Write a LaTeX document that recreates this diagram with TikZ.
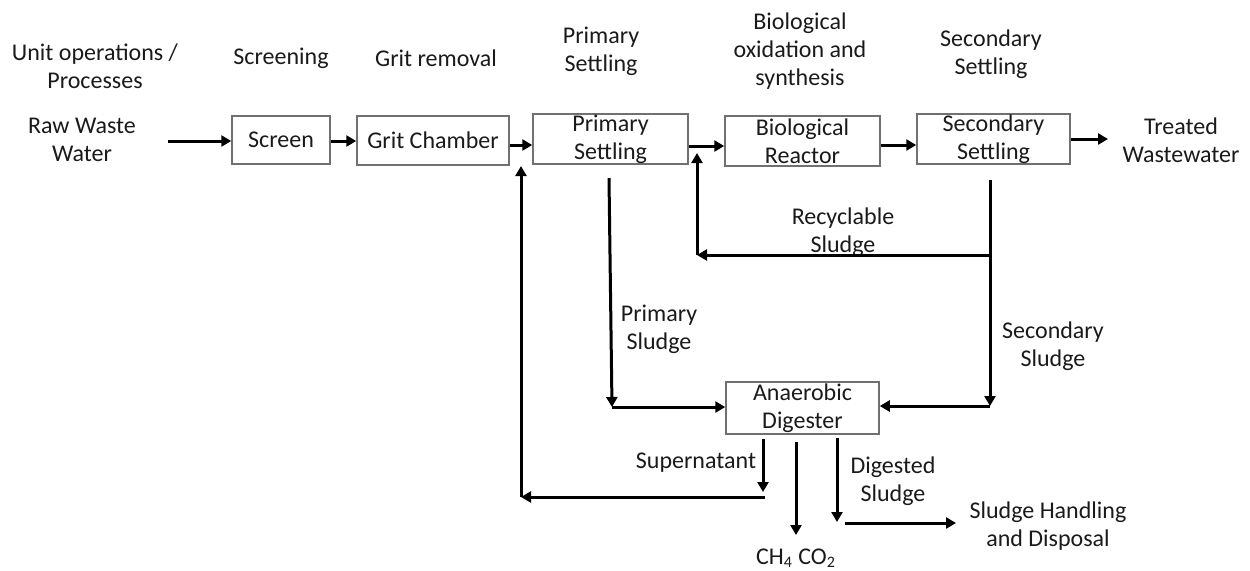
\documentclass[tikz,border=0pt]{standalone}
\usepackage{fontspec}
\setmainfont{Carlito}
\usetikzlibrary{arrows.meta}
\definecolor{boxgray}{HTML}{707070}
\definecolor{ink}{HTML}{1A1A1A}
\begin{document}
\begin{tikzpicture}[x=0.5pt,y=-0.5pt,
  every node/.style={font=\fontsize{12}{14}\selectfont, text=ink, align=center, inner sep=0pt},
  procbox/.style={draw=boxgray, line width=0.75pt},
  arr/.style={line width=1.5pt, draw=black, -{Triangle[length=5pt,width=5.5pt]}},
  ln/.style={line width=1.5pt, draw=black}]
\useasboundingbox (0,0) rectangle (1250,570);

% headers
\node (hops) at (95,66) {Unit operations /\\Processes};
\node (hscr) at (281,58) {Screening};
\node (hgrit) at (436,58) {Grit removal};
\node (hprim) at (601,51) {Primary\\Settling};
\node (hbio) at (800,51) {Biological\\oxidation and\\synthesis};
\node (hsec) at (991,54) {Secondary\\Settling};

% boxes
\node[procbox, minimum width=49pt, minimum height=24pt] (scr) at (281,140) {Screen};
\node[procbox, minimum width=76pt, minimum height=24.5pt] (grit) at (433,140.5) {Grit Chamber};
\node[procbox, minimum width=77.5pt, minimum height=25pt] (prim) at (610.5,139) {Primary\\Settling};
\node[procbox, minimum width=77.5pt, minimum height=25pt] (bio) at (802.5,141) {Biological\\Reactor};
\node[procbox, minimum width=76.5pt, minimum height=25pt] (sec) at (993.5,139) {Secondary\\Settling};
\node[procbox, minimum width=76.5pt, minimum height=26pt] (dig) at (802.5,408) {Anaerobic\\Digester};

% other texts
\node (raw) at (82,140) {Raw Waste\\Water};
\node (treated) at (1181,140) {Treated\\Wastewater};
\node (lrec) at (843,232) {Recyclable\\Sludge};
\node (lps) at (659,329) {Primary\\Sludge};
\node (lss) at (1053,346) {Secondary\\Sludge};
\node (lsup) at (696,463) {Supernatant};
\node (ldig) at (893,481) {Digested\\Sludge};
\node (handling) at (1048,526) {Sludge Handling\\and Disposal};
\node (gas) at (796,558) {CH\textsubscript{4} CO\textsubscript{2}};

% helper coordinates
\coordinate (rawout) at (168,141);
\coordinate (trtin) at (1108,139);
\coordinate (psTop) at (609,178);
\coordinate (psCorner) at (612,407);
\coordinate (ssTop) at (990,180);
\coordinate (ssCorner) at (990,406);
\coordinate (recStart) at (990,255);
\coordinate (recCorner) at (697,255);
\coordinate (recTip) at (697,153);
\coordinate (supTop) at (763,439);
\coordinate (supTip) at (763,492);
\coordinate (supStart) at (765,497);
\coordinate (retCorner) at (521,497);
\coordinate (retTip) at (521,166);
\coordinate (gasTop) at (796,442);
\coordinate (gasTip) at (796,535);
\coordinate (dsTop) at (837,438);
\coordinate (dsTip) at (837,522);
\coordinate (dsStart) at (845,523);
\coordinate (dsEnd) at (956,523);

% main flow
\draw[arr] (rawout) -- (rawout -| scr.west);
\draw[arr] (scr.east |- 0,141) -- (grit.west |- 0,141);
\draw[arr] (grit.east |- 0,145) -- (prim.west |- 0,145);
\draw[arr] (prim.east |- 0,146) -- (bio.west |- 0,146);
\draw[arr] (bio.east |- 0,145) -- (sec.west |- 0,145);
\draw[arr] (sec.east |- trtin) -- (trtin);

% primary sludge
\draw[arr] (psTop) -- (psCorner);
\draw[arr] (psCorner) -- (psCorner -| dig.west);

% secondary sludge
\draw[arr] (ssTop) -- (ssCorner);
\draw[arr] (ssCorner) -- (ssCorner -| dig.east);

% recycle
\draw[arr] (recStart) -- (recCorner);
\draw[arr] (recCorner) -- (recTip);

% supernatant return
\draw[arr] (supTop) -- (supTip);
\draw[arr] (supStart) -- (retCorner);
\draw[arr] (retCorner) -- (retTip);

% gas
\draw[arr] (gasTop) -- (gasTip);

% digested sludge
\draw[arr] (dsTop) -- (dsTip);
\draw[arr] (dsStart) -- (dsEnd);
\end{tikzpicture}
\end{document}
